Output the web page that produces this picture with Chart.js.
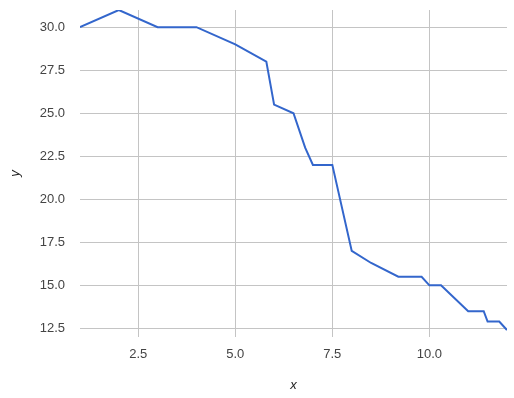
<!DOCTYPE html>
<html>
<head>
<meta charset="utf-8">
<script src="https://cdn.jsdelivr.net/npm/chart.js@4"></script>
<style>
  html, body { margin: 0; padding: 0; background: #fff; }
  #wrap { width: 514px; height: 398px; }
</style>
</head>
<body>
<div id="wrap"><canvas id="graf" width="514" height="398"></canvas></div>
<script>
// Date
const valoriX = [1, 2, 3, 4, 5, 5.8, 6, 6.5, 6.8, 7, 7.5, 8, 8.5, 9.2, 9.8, 10, 10.3, 11, 11.4, 11.5, 11.8, 12];
const valoriY = [30, 31, 30, 30, 29, 28, 25.5, 25, 23, 22, 22, 17, 16.3, 15.5, 15.5, 15, 15, 13.5, 13.5, 12.9, 12.9, 12.4];
const tickuriX = [2.5, 5, 7.5, 10];
const tickuriY = [12.5, 15, 17.5, 20, 22.5, 25, 27.5, 30];

const puncte = valoriX.map((x, i) => ({ x: x, y: valoriY[i] }));
const fontTick = { family: "'Liberation Sans', Arial, sans-serif", size: 13 };
const fontTitlu = { family: "'Liberation Sans', Arial, sans-serif", size: 13, style: 'italic' };

new Chart(document.getElementById('graf').getContext('2d'), {
    type: 'line',
    data: { datasets: [{ data: puncte, borderColor: '#3366cc', borderWidth: 2, pointRadius: 0, fill: false, tension: 0 }] },
    options: {
        responsive: false,
        animation: false,
        layout: { padding: { top: 10, right: 7, left: 0, bottom: 0 } },
        plugins: { legend: { display: false }, tooltip: { enabled: false } },
        scales: {
            x: {
                type: 'linear', min: 1, max: 12,
                afterBuildTicks: s => { s.ticks = tickuriX.map(v => ({ value: v })); },
                afterFit: s => { s.height = 61; s.paddingLeft = 0; s.paddingRight = 0; },
                ticks: { font: fontTick, color: '#444', padding: 10, maxRotation: 0, callback: v => v.toFixed(1) },
                grid: { color: '#c4c4c4', drawTicks: false },
                border: { display: false },
                title: { display: true, text: 'x', font: fontTitlu, color: '#222', padding: { top: 0, bottom: 5 } }
            },
            y: {
                type: 'linear', min: 12, max: 31,
                afterBuildTicks: s => { s.ticks = tickuriY.map(v => ({ value: v })); },
                afterFit: s => { s.width = 80; s.paddingTop = 0; s.paddingBottom = 0; },
                ticks: { font: fontTick, color: '#444', padding: 15, callback: v => v.toFixed(1) },
                grid: { color: '#c4c4c4', drawTicks: false },
                border: { display: false },
                title: { display: true, text: 'y', font: fontTitlu, color: '#222', padding: { top: 8, bottom: 0 } }
            }
        }
    }
});
</script>
</body>
</html>
